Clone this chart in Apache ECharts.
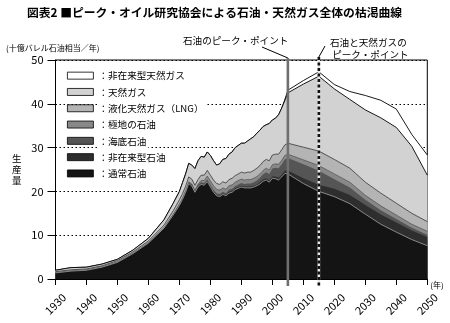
<!DOCTYPE html>
<html>
<head>
<meta charset="utf-8">
<script src="https://cdn.jsdelivr.net/npm/echarts@6/dist/echarts.min.js"></script>
<style>
  html, body { margin: 0; padding: 0; background: #fff; }
  #chart { width: 450px; height: 323px; }
</style>
</head>
<body>
<div id="chart"></div>
<script>
// Production by source, billion barrels of oil equivalent per year (layer thicknesses)
const years = [
  1930, 1935, 1940, 1945, 1950, 1955, 1960, 1965, 1968,
  1970, 1971, 1972, 1973, 1974, 1975, 1976, 1977, 1978, 1979,
  1980, 1981, 1982, 1983, 1984, 1985, 1986, 1987, 1988, 1989,
  1990, 1991, 1992, 1993, 1994, 1995, 1996, 1997, 1998, 1999,
  2000, 2001, 2002, 2003, 2004, 2005,
  2010, 2015, 2020, 2025, 2030, 2035, 2040, 2045, 2050
];
const regularOil = [
  1.4, 1.8, 2.0, 2.7, 3.8, 5.8, 8.2, 11.6, 14.6,
  16.8, 18.2, 19.8, 21.8, 21.2, 19.8, 21.0, 21.6, 21.4, 22.2,
  21.0, 19.8, 19.0, 18.8, 19.3, 19.0, 19.6, 19.8, 20.4, 20.7,
  21.0, 20.8, 20.8, 20.8, 21.0, 21.3, 21.7, 22.3, 22.6, 22.1,
  23.0, 22.9, 22.6, 23.3, 24.1, 24.0,
  21.8, 20.0, 18.8, 17.2, 14.8, 12.5, 10.7, 9.0, 7.6
];
const heavyOil = [
  0.1, 0.1, 0.1, 0.1, 0.1, 0.1, 0.1, 0.1, 0.2,
  0.2, 0.2, 0.2, 0.2, 0.2, 0.2, 0.2, 0.2, 0.2, 0.2,
  0.2, 0.2, 0.2, 0.2, 0.2, 0.2, 0.3, 0.3, 0.3, 0.3,
  0.3, 0.3, 0.3, 0.3, 0.3, 0.3, 0.4, 0.4, 0.4, 0.4,
  0.4, 0.5, 0.5, 0.5, 0.6, 0.8,
  1.2, 1.5, 1.8, 2.0, 2.1, 2.2, 2.2, 2.1, 2.0
];
const deepwaterOil = [
  0, 0, 0, 0, 0, 0, 0, 0, 0,
  0, 0, 0.1, 0.1, 0.2, 0.2, 0.3, 0.3, 0.3, 0.3,
  0.3, 0.4, 0.4, 0.4, 0.4, 0.4, 0.5, 0.5, 0.5, 0.6,
  0.6, 0.6, 0.7, 0.7, 0.8, 0.9, 1.0, 1.2, 1.4, 1.5,
  1.8, 2.0, 2.2, 2.4, 2.6, 2.8,
  3.2, 3.2, 2.2, 1.7, 1.2, 1.0, 0.8, 0.6, 0.5
];
const polarOil = [
  0, 0, 0, 0, 0, 0, 0, 0, 0,
  0.1, 0.1, 0.1, 0.1, 0.1, 0.1, 0.1, 0.4, 0.6, 0.8,
  0.9, 0.9, 0.9, 0.9, 0.9, 0.9, 0.9, 0.9, 0.9, 0.9,
  0.9, 0.9, 0.9, 0.9, 0.9, 0.9, 0.9, 0.9, 0.9, 0.9,
  0.9, 0.9, 0.9, 0.9, 0.9, 0.9,
  1.0, 1.2, 1.2, 1.2, 1.0, 1.0, 0.9, 0.8, 0.8
];
const gasLiquids = [
  0.2, 0.2, 0.2, 0.2, 0.3, 0.3, 0.4, 0.6, 0.8,
  1.0, 1.0, 1.0, 1.1, 1.1, 1.1, 1.1, 1.2, 1.2, 1.3,
  1.3, 1.3, 1.3, 1.3, 1.4, 1.4, 1.4, 1.5, 1.5, 1.5,
  1.6, 1.6, 1.7, 1.7, 1.8, 1.9, 1.9, 2.0, 2.0, 2.1,
  2.2, 2.2, 2.3, 2.4, 2.4, 2.5,
  2.9, 3.3, 3.3, 3.2, 3.0, 2.9, 2.7, 2.5, 2.2
];
const naturalGas = [
  0.3, 0.5, 0.4, 0.4, 0.3, 0.4, 0.6, 1.2, 1.7,
  1.9, 2.5, 2.8, 3.1, 3.2, 3.8, 4.3, 4.3, 4.1, 4.2,
  4.5, 4.4, 4.2, 4.7, 5.1, 5.6, 5.8, 6.0, 6.4, 6.5,
  6.6, 6.8, 7.1, 7.6, 7.7, 8.0, 8.1, 8.0, 7.9, 8.5,
  8.0, 8.2, 9.0, 9.5, 10.1, 11.5,
  14.4, 17.1, 16.1, 15.7, 16.5, 17.2, 17.3, 15.3, 10.6
];
const unconventionalGas = [
  0, 0, 0, 0, 0, 0, 0, 0, 0,
  0, 0, 0, 0, 0, 0, 0, 0, 0, 0,
  0, 0, 0, 0, 0, 0, 0, 0, 0, 0,
  0, 0, 0, 0, 0, 0, 0, 0, 0, 0,
  0, 0, 0, 0, 0.2, 0.6,
  0.8, 1.0, 1.0, 1.8, 3.3, 4.0, 4.2, 2.7, 4.6
];

const oilPeakYear = 2005;
const allPeakYear = 2015;

// Layers from the bottom of the stack upwards
const layers = [
  { name: '通常石油', data: regularOil, fill: '#141414', line: '#cfcfcf', lw: 0.6 },
  { name: '非在来型石油', data: heavyOil, fill: '#2e2e2e', line: '#2e2e2e', lw: 0 },
  { name: '海底石油', data: deepwaterOil, fill: '#555555', line: '#555555', lw: 0 },
  { name: '極地の石油', data: polarOil, fill: '#888888', line: '#333', lw: 0.5 },
  { name: '液化天然ガス（LNG）', data: gasLiquids, fill: '#b4b4b4', line: '#222', lw: 0.7 },
  { name: '天然ガス', data: naturalGas, fill: '#d2d2d2', line: '#000', lw: 0.9 },
  { name: '非在来型天然ガス', data: unconventionalGas, fill: '#ffffff', line: '#000', lw: 0.9 }
];

// Running top edge of each layer; every area is filled down to zero and the
// lower layers are painted over the upper ones.
const running = years.map(() => 0);
const tops = layers.map(l => l.data.map((v, i) => (running[i] = +(running[i] + v).toFixed(2))));

const FONT = '"Noto Sans CJK JP", "Noto Sans", sans-serif';
const chart = echarts.init(document.getElementById('chart'), null, { renderer: 'canvas' });

const series = layers.map((l, k) => ({
  name: l.name,
  type: 'line',
  symbol: 'none',
  smooth: false,
  data: years.map((y, i) => [y, tops[k][i]]),
  lineStyle: { color: l.line, width: l.lw },
  areaStyle: { color: l.fill, opacity: 1, origin: 'start' },
  itemStyle: { color: l.fill, borderColor: '#000', borderWidth: 0.8 },
  emphasis: { disabled: true },
  z: 2 + (layers.length - k)
})).reverse();

chart.setOption({
  animation: false,
  backgroundColor: '#fff',
  textStyle: { fontFamily: FONT },
  title: {
    text: '図表2 ■ピーク・オイル研究協会による石油・天然ガス全体の枯渇曲線',
    left: 27, top: 7, padding: 0,
    textStyle: { fontFamily: FONT, fontSize: 11.8, fontWeight: 'bold', color: '#000' }
  },
  grid: {
    left: 55.5, right: 22.7, top: 60, bottom: 44,
    show: true, borderColor: '#000', borderWidth: 1, backgroundColor: 'transparent'
  },
  legend: {
    orient: 'vertical',
    left: 62, top: 62.5,
    itemWidth: 26, itemHeight: 7, itemGap: 0,
    icon: 'rect',
    data: layers.map(l => l.name).reverse(),
    formatter: name => '：' + name,
    textStyle: {
      fontFamily: FONT, fontSize: 9.6, color: '#000', lineHeight: 16.3,
      backgroundColor: '#fff', padding: [0, 2, 0, 0]
    },
    itemStyle: { borderColor: '#000', borderWidth: 0.8 },
    selectedMode: false,
    z: 20
  },
  xAxis: {
    type: 'value', min: 1930, max: 2050, interval: 10,
    name: '(年)', nameLocation: 'end', nameGap: 3,
    nameTextStyle: { fontSize: 8, color: '#000', verticalAlign: 'top', padding: [2, 0, 0, 0] },
    axisLine: { show: true, lineStyle: { color: '#000', width: 1 } },
    axisTick: { show: true, length: 6, lineStyle: { color: '#000', width: 1 } },
    axisLabel: {
      rotate: 45, fontSize: 11, color: '#000', margin: 25,
      align: 'center', verticalAlign: 'middle',
      formatter: v => String(v)
    },
    splitLine: { show: false },
    z: 15
  },
  yAxis: {
    type: 'value', min: 0, max: 50, interval: 10,
    axisLine: { show: true, lineStyle: { color: '#000', width: 1 } },
    axisTick: { show: true, length: 8, lineStyle: { color: '#000', width: 1 } },
    axisLabel: { fontSize: 11, color: '#000', margin: 12 },
    splitLine: { show: true, lineStyle: { color: '#000', width: 1.2, type: [1.5, 2.5] } },
    z: 1
  },
  series: series
});

// Peak markers, leader lines and captions placed through the chart's own scales
const px = (x, y) => chart.convertToPixel({ xAxisIndex: 0, yAxisIndex: 0 }, [x, y]);
const oilX = px(oilPeakYear, 0)[0];
const allX = px(allPeakYear, 0)[0];
const axisY = px(1930, 0)[1];
const topY = px(1930, 50)[1];

chart.setOption({
  graphic: [
    { type: 'text', x: 6, y: 44, z: 30,
      style: { text: '(十億バレル石油相当／年)', font: '8px ' + FONT, fill: '#000', textVerticalAlign: 'top' } },
    { type: 'text', x: 12, y: 153, z: 30,
      style: { text: '生\n産\n量', font: '9.5px ' + FONT, fill: '#000', lineHeight: 11, textVerticalAlign: 'top' } },
    { type: 'text', x: 183, y: 36, z: 30,
      style: { text: '石油のピーク・ポイント', font: '9.6px ' + FONT, fill: '#000', textVerticalAlign: 'top' } },
    { type: 'text', x: 330, y: 36, z: 30,
      style: { text: '石油と天然ガスの\n ピーク・ポイント', font: '9.6px ' + FONT, fill: '#000', lineHeight: 12, textVerticalAlign: 'top' } },
    { type: 'line', z: 30,
      shape: { x1: 262, y1: 47, x2: oilX, y2: topY - 2 },
      style: { stroke: '#000', lineWidth: 1 } },
    { type: 'line', z: 30,
      shape: { x1: 325, y1: 46, x2: allX, y2: topY - 3 },
      style: { stroke: '#000', lineWidth: 1 } },
    { type: 'line', z: 31,
      shape: { x1: oilX, y1: topY - 2, x2: oilX, y2: axisY + 7 },
      style: { stroke: '#6f6f6f', lineWidth: 2.6 } },
    { type: 'line', z: 31,
      shape: { x1: allX, y1: topY - 3, x2: allX, y2: axisY + 7 },
      style: { stroke: '#e8e8e8', lineWidth: 2.6 } },
    { type: 'line', z: 32,
      shape: { x1: allX, y1: topY - 3, x2: allX, y2: axisY + 7 },
      style: { stroke: '#111', lineWidth: 2.6, lineDash: [3, 2.5] } }
  ]
});
</script>
</body>
</html>
